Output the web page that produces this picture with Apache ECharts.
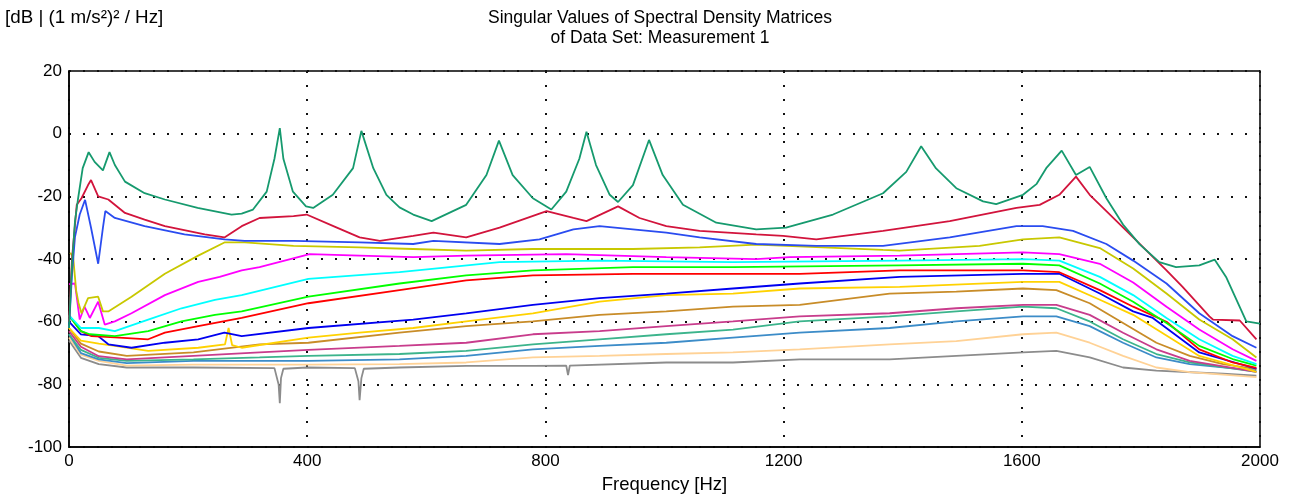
<!DOCTYPE html>
<html>
<head>
<meta charset="utf-8">
<script src="https://cdn.jsdelivr.net/npm/echarts@6/dist/echarts.min.js"></script>
<style>
html,body{margin:0;padding:0;background:#fff;}
#chart{width:1293px;height:499px;}
</style>
</head>
<body>
<div id="chart"></div>
<script>
// singular values, [frequency Hz, dB]
var sv1=[[0,-62],[5,-42],[10,-28],[15,-21],[23,-11],[33,-5.9],[43,-9],[57,-11.7],[68,-5.9],[77,-10],[94,-15.3],[127,-19],[161,-21],[216,-23.7],[273,-25.8],[290,-25.5],[309,-24.2],[332,-18.5],[345,-8],[354,1.8],[360,-8],[376,-18.5],[398,-23.2],[410,-23.7],[443,-19.5],[477,-11],[491,0.9],[511,-11],[533,-19.5],[555,-23.5],[578,-25.8],[609,-27.9],[667,-22.7],[701,-13.2],[722,-2.2],[745,-13.2],[779,-20.6],[810,-24.2],[835,-18.5],[857,-8],[869,0.6],[885,-10],[908,-19.5],[922,-21.8],[947,-16.4],[974,-2],[997,-13.2],[1031,-22.7],[1087,-28.4],[1154,-30.5],[1204,-30],[1283,-25.8],[1367,-19],[1406,-12.2],[1431,-4],[1456,-11.1],[1490,-17.4],[1535,-21.6],[1557,-22.5],[1602,-19.5],[1625,-16],[1641,-11],[1667,-5.4],[1691,-13.2],[1714,-10.6],[1742,-20.6],[1770,-29],[1798,-35.3],[1831,-41],[1859,-42.6],[1898,-42],[1924,-40.2],[1943,-45.7],[1977,-59.9],[2000,-60.6]];
var sv2=[[0,-60],[5,-40],[13,-22.7],[21,-20.6],[32,-16.4],[37,-14.8],[49,-20],[66,-21],[94,-25.3],[127,-27.4],[161,-29.5],[228,-32.1],[261,-33.1],[290,-29.5],[320,-26.9],[377,-26.3],[399,-25.8],[444,-29.5],[488,-33.1],[522,-34.2],[578,-32.6],[612,-31.6],[667,-33.1],[723,-30],[802,-24.7],[847,-26.9],[869,-27.9],[922,-23.2],[958,-26.9],[1003,-29.5],[1059,-31],[1154,-32.1],[1199,-32.6],[1255,-33.7],[1367,-31],[1479,-27.9],[1591,-23.7],[1630,-22.7],[1663,-19.5],[1691,-13.7],[1714,-19.5],[1742,-24.7],[1787,-33.1],[1843,-43.6],[1870,-48.9],[1915,-58.3],[1921,-59.3],[1966,-59.6],[1994,-65.6]];
var sv3=[[0,-62],[5,-45],[10,-33],[18,-25.8],[27,-21.1],[37,-30],[49,-41.5],[57,-30],[61,-24.7],[77,-26.9],[127,-29.5],[194,-32.1],[261,-33.7],[295,-34.2],[377,-34.2],[488,-34.7],[578,-35.2],[612,-34.2],[723,-35.2],[790,-33.7],[847,-30.5],[891,-29.5],[947,-30.5],[1003,-31.6],[1059,-33.1],[1154,-35.2],[1255,-35.8],[1367,-35.8],[1479,-33.1],[1591,-29.5],[1635,-29.5],[1686,-31],[1742,-35.2],[1787,-40.5],[1843,-47.8],[1898,-57.3],[1954,-64.6],[1994,-68.3]];
var sv4=[[2,-38],[7,-39.4],[12,-50],[16,-54],[21,-57.3],[32,-52.5],[49,-52],[57,-56.7],[66,-56.7],[105,-52],[161,-44.7],[217,-38.9],[261,-34.7],[295,-34.7],[377,-35.8],[488,-36.3],[578,-36.8],[667,-37.3],[779,-36.8],[947,-36.8],[1059,-36.3],[1154,-35.4],[1367,-37.1],[1395,-37.3],[1529,-35.8],[1602,-33.7],[1663,-33.1],[1731,-36.5],[1787,-43],[1843,-51],[1898,-59.3],[1954,-65.6],[1994,-71.4]];
var sv5=[[0,-48],[10,-47.8],[18,-59.3],[26,-55.2],[35,-58.8],[49,-53.6],[60,-60.9],[77,-59.9],[105,-57.3],[161,-51.5],[217,-47.3],[253,-45.7],[290,-43.6],[320,-42.6],[404,-38.4],[488,-38.9],[578,-39.4],[667,-38.9],[835,-38.4],[1003,-39.4],[1154,-40],[1210,-39.4],[1395,-38.9],[1602,-37.9],[1663,-38.4],[1731,-41.5],[1787,-47.5],[1843,-55.2],[1898,-62.5],[1954,-68.8],[1994,-72.5]];
var sv6=[[0,-58],[20,-62],[50,-62],[77,-63],[133,-59.3],[189,-55.7],[245,-53],[290,-51.5],[402,-46.3],[555,-44.2],[723,-41],[891,-40.5],[1115,-41],[1395,-40.5],[1602,-40],[1663,-40.5],[1731,-45.7],[1787,-51.5],[1843,-58.8],[1898,-65.6],[1954,-70.9],[1994,-73.5]];
var sv7=[[0,-58],[20,-63],[35,-64],[77,-64.6],[133,-63],[189,-59.9],[245,-57.8],[290,-56.7],[402,-52],[555,-47.8],[667,-45.2],[779,-43.6],[947,-42.6],[1115,-42.6],[1395,-42],[1602,-41.5],[1663,-42],[1731,-47.8],[1787,-53.6],[1843,-60.4],[1898,-67.7],[1954,-71.9],[1994,-74]];
var sv8=[[0,-58],[20,-63],[38,-64.6],[77,-65],[133,-65.6],[161,-63.5],[217,-61.4],[290,-58.8],[402,-54.1],[555,-49.9],[667,-46.8],[779,-45.2],[947,-44.7],[1115,-44.7],[1227,-44.7],[1395,-43.6],[1602,-43.6],[1663,-44.2],[1731,-49.9],[1787,-55.2],[1843,-60],[1898,-68.8],[1954,-73],[1994,-74.7]];
var sv9=[[0,-60],[20,-64],[49,-64.6],[66,-67.2],[105,-68.3],[161,-66.7],[217,-65.6],[261,-63.5],[290,-64.6],[402,-62],[578,-59.3],[667,-57.3],[779,-54.6],[891,-52.5],[1003,-51],[1115,-49.4],[1227,-47.8],[1395,-45.7],[1602,-44.7],[1663,-44.7],[1731,-51],[1787,-56.7],[1820,-58.8],[1898,-69.8],[1994,-75]];
var sv10=[[0,-62],[20,-66],[50,-67],[77,-67.7],[133,-69.3],[217,-68.3],[262,-67.2],[268,-62],[274,-67.5],[290,-68.3],[402,-65.1],[488,-63.5],[578,-62],[667,-59.9],[779,-57.3],[891,-53.6],[1003,-51.5],[1115,-51],[1227,-49.4],[1395,-48.9],[1602,-47.3],[1663,-47.3],[1731,-53],[1787,-57.8],[1898,-70.9],[1994,-76]];
var sv11=[[0,-62],[20,-67],[50,-69.5],[97,-70.9],[209,-69.8],[320,-67.2],[402,-66.7],[555,-63.5],[667,-61.4],[779,-59.9],[891,-57.8],[1003,-56.7],[1115,-55.2],[1227,-54.6],[1378,-51],[1490,-50.4],[1602,-49.4],[1658,-49.9],[1714,-54.1],[1770,-60.4],[1826,-66.7],[1882,-70.9],[1938,-73.5],[1994,-75.1]];
var sv12=[[0,-63],[20,-68],[50,-71],[97,-72],[209,-70.9],[320,-69.8],[402,-69],[555,-67.7],[667,-66.7],[779,-64],[891,-63],[1003,-61.4],[1115,-59.9],[1227,-58.3],[1378,-57.3],[1490,-55.7],[1602,-54.6],[1658,-54.6],[1714,-57.8],[1770,-63.5],[1826,-68.8],[1882,-72.5],[1994,-76]];
var sv13=[[0,-64],[20,-69],[50,-71.5],[97,-72.5],[209,-72],[320,-71.4],[402,-70.9],[555,-70.3],[667,-69.3],[779,-67.2],[891,-65.6],[1003,-64],[1115,-62.5],[1227,-59.9],[1378,-58.3],[1490,-56.7],[1602,-55.2],[1658,-55.7],[1714,-59.9],[1770,-65.6],[1826,-70.3],[1882,-73],[1994,-76]];
var sv14=[[0,-64],[20,-70],[50,-72],[97,-73.2],[209,-72.5],[402,-72.5],[555,-72],[667,-70.9],[779,-68.8],[891,-67.7],[1003,-66.7],[1115,-65.1],[1227,-63.5],[1378,-62],[1490,-59.9],[1602,-58.3],[1658,-58.3],[1714,-61.4],[1770,-66.7],[1826,-71.4],[1882,-73.5],[1994,-75.6]];
var sv15=[[0,-65],[20,-70.5],[50,-72.5],[97,-74],[209,-73.7],[402,-73.7],[555,-73.5],[667,-73],[779,-71.4],[891,-70.9],[1003,-70.3],[1115,-69.8],[1227,-68.8],[1378,-67.2],[1490,-66.2],[1602,-64],[1658,-63.5],[1714,-66.7],[1770,-70.9],[1826,-74.6],[1882,-76.1],[1994,-77.7]];
var sv16=[[0,-66],[20,-71.5],[50,-73.5],[97,-74.6],[209,-74.6],[345,-74.8],[352,-80],[354,-86],[356,-78],[360,-75],[400,-74.6],[480,-74.8],[486,-79],[488,-85],[491,-78],[495,-75],[555,-74.6],[667,-74.1],[779,-74.1],[835,-74],[838,-77],[841,-74],[1003,-73],[1115,-73],[1227,-72],[1378,-72],[1490,-70.9],[1602,-69.8],[1658,-69.3],[1714,-71.4],[1770,-74.6],[1826,-75.6],[1938,-76.6],[1994,-77.2]];

var curves=[sv1,sv2,sv3,sv4,sv5,sv6,sv7,sv8,sv9,sv10,sv11,sv12,sv13,sv14,sv15,sv16];
var colors=['#169a6e','#d2143c','#2a4cf0','#c8c800','#ff00ff','#00ffff','#00ff00','#ff0000','#0000f0','#ffd200','#c88c28','#c83c8c','#3cb48c','#3c8cc8','#ffd296','#8c8c8c'];

var fnt='"Liberation Sans", Arial, sans-serif';
var chart=echarts.init(document.getElementById('chart'));

var series=[];
for(var i=curves.length-1;i>=0;i--){
	series.push({
		type:'line',
		data:curves[i],
		showSymbol:false,
		symbol:'none',
		lineStyle:{color:colors[i],width:1.8},
		z:2+curves.length-i
	});
}

var option={
	animation:false,
	backgroundColor:'#ffffff',
	grid:{left:69,top:71,right:33,bottom:47,show:true,borderColor:'#000',borderWidth:1.5,backgroundColor:'transparent'},
	xAxis:{
		type:'value',min:0,max:2000,interval:400,
		name:'Frequency [Hz]',nameLocation:'middle',nameGap:27,
		nameTextStyle:{color:'#000',fontSize:18.5,fontFamily:fnt},
		axisLine:{onZero:false,lineStyle:{color:'#000',width:1.5}},
		axisTick:{show:false},
		axisLabel:{color:'#000',fontSize:17,fontFamily:fnt,margin:6,formatter:function(v){return String(v);}},
		splitLine:{show:true,lineStyle:{color:'#111',width:2,type:[2,12]}}
	},
	yAxis:{
		type:'value',min:-100,max:20,interval:20,
		axisLine:{show:true,onZero:false,lineStyle:{color:'#000',width:1.5}},
		axisTick:{show:false},
		axisLabel:{color:'#000',fontSize:17,fontFamily:fnt,margin:7,formatter:function(v){return String(v);}},
		splitLine:{show:true,lineStyle:{color:'#111',width:2,type:[2,12]}}
	},
	graphic:[
		{type:'text',x:5,y:18,style:{text:'[dB | (1 m/s²)² / Hz]',font:'18.8px '+fnt,fill:'#000',textAlign:'left',textVerticalAlign:'middle'}},
		{type:'text',x:660,y:18,style:{text:'Singular Values of Spectral Density Matrices',font:'17.5px '+fnt,fill:'#000',textAlign:'center',textVerticalAlign:'middle'}},
		{type:'text',x:660,y:38,style:{text:'of Data Set: Measurement 1',font:'17.5px '+fnt,fill:'#000',textAlign:'center',textVerticalAlign:'middle'}}
	],
	series:series
};
chart.setOption(option);
</script>
</body>
</html>
